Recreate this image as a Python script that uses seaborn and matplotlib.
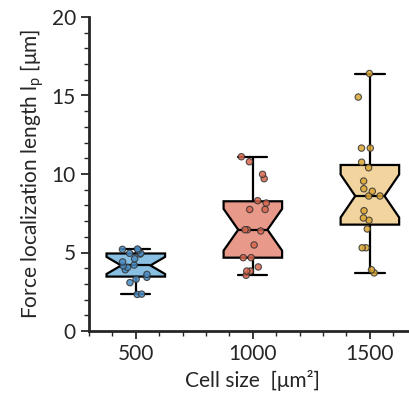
import numpy as np
import pandas as pd
import matplotlib
matplotlib.use("Agg")
import matplotlib.pyplot as plt
import seaborn as sns
from matplotlib.ticker import MultipleLocator

# ---- data ----
sizes = [500, 1000, 1500]
vals_500 = [2.33, 2.35, 3.08, 3.3, 3.42, 3.6, 3.9, 4.05, 4.15, 4.2, 4.4, 4.6,
            4.9, 4.95, 4.95, 5.15, 5.2, 5.22]
vals_1000 = [3.55, 3.82, 3.82, 4.08, 4.67, 4.67, 5.48, 6.37, 6.45, 6.45, 7.74,
             7.74, 8.15, 8.3, 9.7, 9.98, 10.78, 11.1]
vals_1500 = [3.7, 3.9, 5.3, 5.3, 6.5, 7.05, 7.2, 7.66, 8.6, 8.6, 8.9, 9.06,
             9.55, 10.4, 10.75, 11.65, 11.65, 14.9, 16.4]
box_colors = ["#88bfe2", "#e8998a", "#f2d59e"]
dot_colors = ["#4a8cc4", "#d9664e", "#dba532"]

df = pd.DataFrame({
    "size": [500] * len(vals_500) + [1000] * len(vals_1000) + [1500] * len(vals_1500),
    "val": vals_500 + vals_1000 + vals_1500,
})

sns.set_style("ticks")
plt.rcParams["font.family"] = ["Lato", "DejaVu Sans"]
plt.rcParams["mathtext.fontset"] = "custom"
plt.rcParams["mathtext.rm"] = "Lato"
plt.rcParams["mathtext.it"] = "Lato:italic"

fig = plt.figure(figsize=(4.09, 4.05), dpi=100)
ax = fig.add_axes([89 / 409, 1 - 331 / 405, 327.7 / 409, 314 / 405])

sns.boxplot(data=df, x="size", y="val", hue="size", palette=box_colors,
            native_scale=True, notch=True, width=0.5, whis=(0, 100),
            showfliers=False, saturation=1, linecolor="black", linewidth=1.6,
            legend=False, ax=ax)
np.random.seed(3)
sns.stripplot(data=df, x="size", y="val", hue="size", palette=dot_colors,
              native_scale=True, jitter=0.12, size=4.6, edgecolor="#333333",
              linewidth=0.8, alpha=0.85, legend=False, zorder=3, ax=ax)

ax.set_xlim(300, 1700)
ax.set_ylim(0, 20)
ax.set_xticks(sizes)
ax.set_xticklabels([str(s) for s in sizes])
ax.xaxis.set_minor_locator(MultipleLocator(100))
ax.set_yticks([0, 5, 10, 15, 20])
ax.yaxis.set_minor_locator(MultipleLocator(1))
ax.tick_params(which="major", length=6, width=1.3, labelsize=15, direction="out")
ax.tick_params(which="minor", length=3.5, width=1.0, direction="out")
for s in ["top", "right"]:
    ax.spines[s].set_visible(False)
for s in ["left", "bottom"]:
    ax.spines[s].set_linewidth(2)
ax.set_xlabel("Cell size  [μm²]", fontsize=15)
ax.set_ylabel(r"Force localization length l$_\mathrm{p}$ [μm]", fontsize=15)

fig.savefig("out.png", dpi=100)
